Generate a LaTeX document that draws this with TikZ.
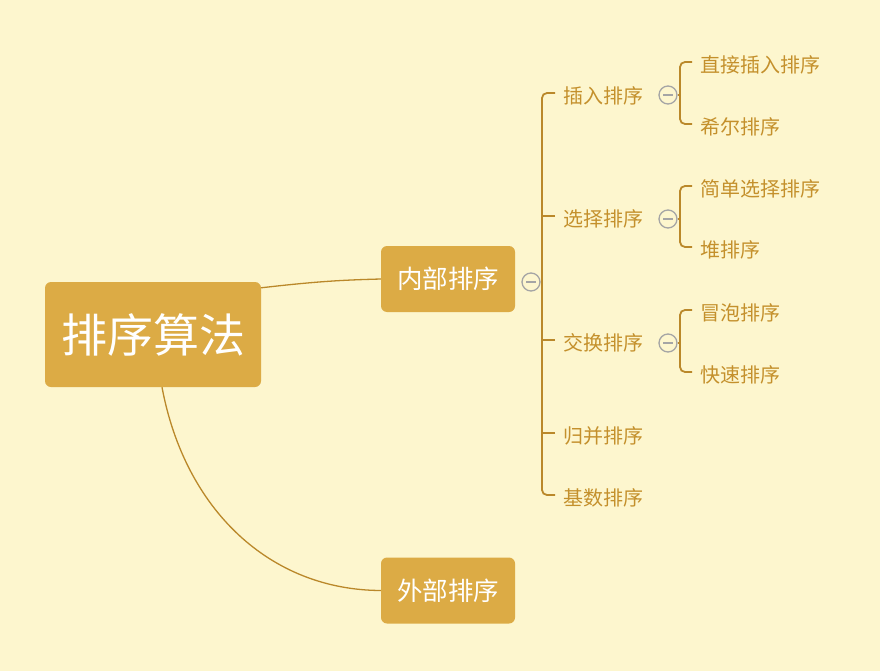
\documentclass[tikz,border=0pt]{standalone}
\usepackage{fontspec}
\newfontfamily\cjk{Noto Sans CJK SC}
\definecolor{bgc}{RGB}{253,246,206}
\definecolor{boxc}{RGB}{220,171,69}
\definecolor{linec}{RGB}{186,136,42}
\definecolor{leafc}{RGB}{196,144,44}
\definecolor{grayc}{RGB}{165,165,165}
\tikzset{
  rootbox/.style={fill=boxc, rounded corners=6pt, minimum width=216pt, minimum height=105pt, text=white, font=\cjk\fontsize{46}{50}\selectfont, inner sep=0pt},
  subbox/.style={fill=boxc, rounded corners=6pt, minimum width=134pt, minimum height=66pt, text=white, font=\cjk\fontsize{25.5}{28}\selectfont, inner sep=0pt},
  leaf/.style={anchor=west, inner sep=0pt, text=leafc, font=\cjk\fontsize{20}{22}\selectfont},
  colbtn/.style={circle, draw=grayc, line width=1.3pt, minimum size=18pt, inner sep=0pt,
    path picture={\draw[grayc, line width=1.3pt] ([xshift=-5pt]path picture bounding box.center) -- ([xshift=5pt]path picture bounding box.center);}},
  link/.style={draw=linec, line width=1.3pt},
  br/.style={draw=linec, line width=1.8pt, rounded corners=5pt},
}
\begin{document}
\begin{tikzpicture}[x=1pt,y=-1pt]
\fill[bgc] (0,0) rectangle (880,671);
\useasboundingbox (0,0) rectangle (880,671);

\node[rootbox] (root) at (153,334.5) {\raisebox{-3pt}{排序算法}};
\node[subbox] (inner) at (448,279) {\raisebox{-2pt}{内部排序}};
\node[subbox] (outer) at (448,590.5) {\raisebox{-2pt}{外部排序}};

\draw[link] ([yshift=-6pt]root.north east) .. controls (320,281) and (345,280) .. (inner.west);
\draw[link] ([xshift=9pt]root.south) .. controls (185,510) and (270,590) .. (outer.west);

\node[colbtn] (c0) at (531,282) {};

\node[leaf] (a1) at (563,96) {插入排序};
\node[leaf] (a2) at (563,219) {选择排序};
\node[leaf] (a3) at (563,343) {交换排序};
\node[leaf] (a4) at (563,436) {归并排序};
\node[leaf] (a5) at (563,498) {基数排序};

\draw[br] ([xshift=-8pt,yshift=3pt]a1.west) -| (542,282) |- ([xshift=-8pt,yshift=3pt]a5.west);
\draw[br] ([xshift=-8pt,yshift=3pt]a2.west) -- ++(-13,0);
\draw[br] ([xshift=-8pt,yshift=3pt]a3.west) -- ++(-13,0);
\draw[br] ([xshift=-8pt,yshift=3pt]a4.west) -- ++(-13,0);
\draw[br] (c0.east) -- (542,282);

\node[colbtn] (c1) at (668,95) {};
\node[colbtn] (c2) at (668,219) {};
\node[colbtn] (c3) at (668,343) {};

\node[leaf] (b1) at (700,65) {直接插入排序};
\node[leaf] (b2) at (700,127) {希尔排序};
\node[leaf] (b3) at (700,189) {简单选择排序};
\node[leaf] (b4) at (700,250) {堆排序};
\node[leaf] (b5) at (700,313) {冒泡排序};
\node[leaf] (b6) at (700,375) {快速排序};

\draw[br] ([xshift=-8pt,yshift=3pt]b1.west) -| (680,95) |- ([xshift=-8pt,yshift=3pt]b2.west);
\draw[br] (c1.east) -- (680,95);
\draw[br] ([xshift=-8pt,yshift=3pt]b3.west) -| (680,219) |- ([xshift=-8pt,yshift=3pt]b4.west);
\draw[br] (c2.east) -- (680,219);
\draw[br] ([xshift=-8pt,yshift=3pt]b5.west) -| (680,343) |- ([xshift=-8pt,yshift=3pt]b6.west);
\draw[br] (c3.east) -- (680,343);
\end{tikzpicture}
\end{document}
